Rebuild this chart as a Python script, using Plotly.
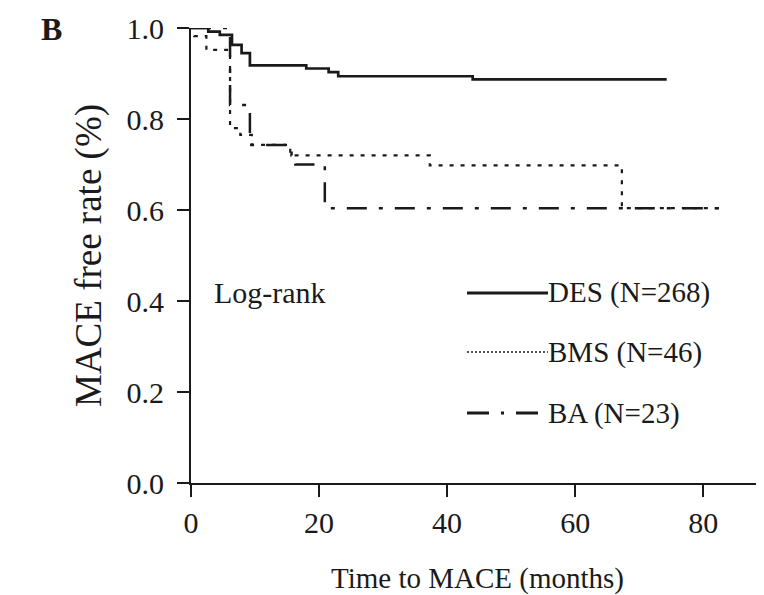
import plotly.graph_objects as go

# Kaplan-Meier step data (months, MACE-free rate)
des_t = [0, 2.7, 4.5, 6.4, 7.9, 9.2, 18.0, 21.5, 23.0, 44.0, 74.3]
des_s = [1.0, 0.992, 0.985, 0.963, 0.945, 0.918, 0.911, 0.903, 0.894, 0.887, 0.887]

bms_t = [0, 0.5, 2.4, 6.1, 7.7, 9.5, 15.5, 37.3, 67.3, 83.1]
bms_s = [1.0, 0.982, 0.952, 0.78, 0.765, 0.743, 0.72, 0.698, 0.604, 0.604]

ba_t = [0, 6.1, 9.2, 15.7, 16.3, 20.9, 83.5]
ba_s = [1.0, 0.831, 0.743, 0.72, 0.70, 0.604, 0.604]

legend_labels = ["DES (N=268)", "BMS (N=46)", "BA (N=23)"]
x_ticks = [0, 20, 40, 60, 80]
y_ticks = [0.0, 0.2, 0.4, 0.6, 0.8, 1.0]

SERIF = "Liberation Serif, Times New Roman, serif"
INK = "#1a1a1a"
plot_dashes = ["solid", "4px,7px", "20px,12px,4px,12px"]
plot_widths = [2.7, 2.2, 2.5]
leg_dashes = ["solid", "2px,2px", "22px,12px,3px,12px"]
leg_widths = [3, 1.5, 3]

# The page body adds an 8px offset; figure is sized so the plot area lands
# at page pixels x 191..764, y 28..483.
OFF = 8
W, H = 764 - OFF, 595 - OFF
L, R, T, B = 191 - OFF, 0, 28 - OFF, 595 - 483
PW, PH = W - L - R, H - T - B


def px(xp):
    return (xp - OFF - L) / PW


def py(yp):
    return (T + PH - (yp - OFF)) / PH


fig = go.Figure()
for t, s, name, d, w in zip([des_t, bms_t, ba_t], [des_s, bms_s, ba_s], legend_labels, plot_dashes, plot_widths):
    fig.add_trace(go.Scatter(x=t, y=s, mode="lines", line_shape="hv", name=name,
                             line=dict(color=INK, width=w, dash=d),
                             showlegend=False, cliponaxis=False))

axis_common = dict(showgrid=False, zeroline=False, showline=True, linecolor=INK, linewidth=2,
                   ticks="outside", ticklen=12, tickwidth=2, tickcolor=INK,
                   tickfont=dict(size=30, family=SERIF, color=INK), automargin=False)

fig.update_layout(
    width=W, height=H,
    margin=dict(l=L, r=R, t=T, b=B),
    paper_bgcolor="white", plot_bgcolor="white",
    font=dict(family=SERIF, color=INK),
    xaxis=dict(range=[0, 89.5], tickvals=x_ticks, ticktext=[str(v) for v in x_ticks],
               title=dict(text="Time to MACE (months)", font=dict(size=29, family=SERIF, color=INK), standoff=30),
               **axis_common),
    yaxis=dict(range=[0, 1.0], tickvals=y_ticks, ticktext=[f"{v:.1f}" for v in y_ticks],
               ticklabelstandoff=7,
               title=dict(text="MACE free rate (%)", font=dict(size=37, family=SERIF, color=INK), standoff=14),
               **axis_common),
)

# Panel label
fig.add_annotation(text="<b>B</b>", xref="paper", yref="paper", x=px(51), y=py(29),
                   showarrow=False, font=dict(size=32, family=SERIF, color=INK), xanchor="center", yanchor="middle")

# Log-rank text
fig.add_annotation(text="Log-rank", xref="paper", yref="paper", x=px(212), y=py(293),
                   showarrow=False, font=dict(size=30, family=SERIF, color=INK), xanchor="left", yanchor="middle")

# Manual legend
leg_y = [293, 352, 413]
for lab, d, w, yp in zip(legend_labels, leg_dashes, leg_widths, leg_y):
    yy = py(yp)
    fig.add_shape(type="line", xref="paper", yref="paper",
                  x0=px(467), x1=px(548), y0=yy, y1=yy,
                  line=dict(color=INK, width=w, dash=d))
    fig.add_annotation(text=lab, xref="paper", yref="paper", x=px(546), y=yy,
                       showarrow=False, font=dict(size=29, family=SERIF, color=INK), xanchor="left", yanchor="middle")

fig.write_html("out.html")
